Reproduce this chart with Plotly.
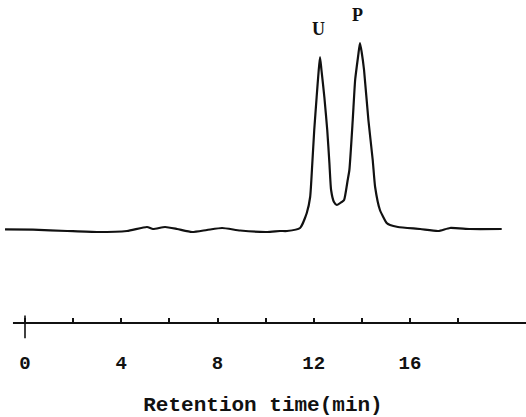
import plotly.graph_objects as go

# Chromatogram trace (retention time in min, detector response, arbitrary units)
time_min = [-0.83, 0.33, 1.75, 2.99, 4.24, 5.07, 5.32, 5.82, 6.32, 6.94, 7.56, 8.19, 8.94,
            10.06, 10.60, 10.89, 11.43, 11.71, 11.85, 11.94, 12.02, 12.12, 12.20, 12.26,
            12.32, 12.44, 12.56, 12.65, 12.72, 12.84, 12.96, 13.16, 13.26, 13.41, 13.48,
            13.62, 13.72, 13.85, 13.92, 13.99, 14.09, 14.27, 14.45, 14.55, 14.75, 15.03,
            15.17, 15.50, 16.42, 17.17, 17.66, 18.50, 19.81]
signal = [0.7, 0.3, -1, -2, -1, 3, 1, 3, 1, -2, 0, 2, -0.5,
          -2, -1, -1, 2, 17, 33, 67, 100, 133, 158, 173,
          160, 133, 100, 67, 40, 28, 25, 28, 30, 50, 60,
          110, 150, 175, 187, 178, 160, 110, 70, 43, 20, 7,
          5, 3, 1, -1, 2, 1, 1]

tick_vals = [0, 2, 4, 6, 8, 10, 12, 14, 16, 18]
tick_text = ["0", "", "4", "", "8", "", "12", "", "16", ""]

peak_names = ["U", "P"]
peak_times = [12.26, 13.92]
peak_heights = [173, 187]

fig = go.Figure()
fig.add_trace(go.Scatter(
    x=time_min, y=signal, mode="lines",
    line=dict(color="#111111", width=2.2, shape="spline", smoothing=0.5),
    showlegend=False, hoverinfo="skip"))

for name, t, h in zip(peak_names, peak_times, peak_heights):
    fig.add_annotation(x=t, y=h, text=name, showarrow=False, yanchor="bottom",
                       yshift=16, xshift=-2,
                       font=dict(family="Liberation Serif", size=18, color="#111111",
                                 weight="bold"))

# baseline axis line and the crossed zero tick
fig.add_shape(type="line", xref="x", yref="paper", x0=-0.5, x1=21, y0=0, y1=0,
              line=dict(color="#111111", width=2.2))
fig.add_shape(type="line", xref="x", yref="paper", x0=0, x1=0, y0=0.023, y1=-0.047,
              line=dict(color="#111111", width=1.6))

mono = dict(family="Liberation Mono", size=19, color="#111111", weight="bold")

fig.update_layout(
    width=526, height=417,
    margin=dict(l=0, r=0, t=0, b=94),
    paper_bgcolor="white", plot_bgcolor="white",
    xaxis=dict(range=[-1.039, 20.82], showline=False, showgrid=False, zeroline=False,
               tickmode="array", tickvals=tick_vals, ticktext=tick_text,
               ticks="inside", ticklen=5, tickwidth=1.6, tickcolor="#111111",
               ticklabelstandoff=26, tickfont=mono, automargin=False,
               title=dict(text="Retention time(min)", font=dict(family="Liberation Mono", size=21,
                                                               color="#111111", weight="bold"),
                          standoff=30)),
    yaxis=dict(range=[-93, 230], visible=False),
)

fig.write_html("out.html", config={"displayModeBar": False},
               post_script="document.body.style.margin='0';")
